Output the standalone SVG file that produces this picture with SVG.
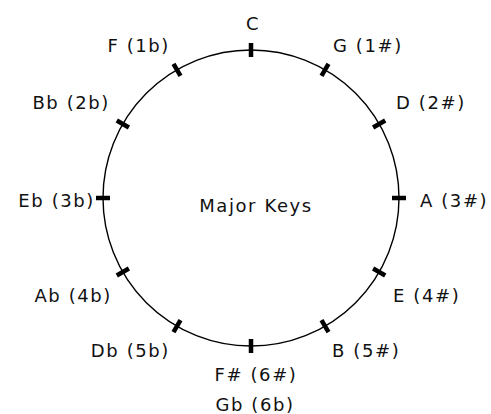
<svg xmlns="http://www.w3.org/2000/svg" width="491" height="414" viewBox="0 0 491 414">
<style>
.lbl{font-family:"DejaVu Sans","Verdana",sans-serif;font-size:18px;fill:#111;letter-spacing:1.6px}
.s{text-anchor:start}.e{text-anchor:end}.m{text-anchor:middle}
.tick{stroke:#000;stroke-width:4.5}
</style>
<rect width="491" height="414" fill="#fff"/>
<g id="connectors">
<circle cx="251" cy="198" r="148" fill="none" stroke="#000" stroke-width="1.4"/>
<g class="tick">
<line x1="251" y1="43" x2="251" y2="57"/>
<line x1="251" y1="43" x2="251" y2="57" transform="rotate(30 251 198)"/>
<line x1="251" y1="43" x2="251" y2="57" transform="rotate(60 251 198)"/>
<line x1="251" y1="43" x2="251" y2="57" transform="rotate(90 251 198)"/>
<line x1="251" y1="43" x2="251" y2="57" transform="rotate(120 251 198)"/>
<line x1="251" y1="43" x2="251" y2="57" transform="rotate(150 251 198)"/>
<line x1="251" y1="43" x2="251" y2="57" transform="rotate(180 251 198)"/>
<line x1="251" y1="43" x2="251" y2="57" transform="rotate(210 251 198)"/>
<line x1="251" y1="43" x2="251" y2="57" transform="rotate(240 251 198)"/>
<line x1="251" y1="43" x2="251" y2="57" transform="rotate(270 251 198)"/>
<line x1="251" y1="43" x2="251" y2="57" transform="rotate(300 251 198)"/>
<line x1="251" y1="43" x2="251" y2="57" transform="rotate(330 251 198)"/>
</g>
</g>
<g id="center"><text class="lbl m" x="256" y="212">Major Keys</text></g>
<g id="key-C"><text class="lbl m" x="253" y="30">C</text></g>
<g id="key-G"><text class="lbl s" x="333" y="52">G (1#)</text></g>
<g id="key-D"><text class="lbl s" x="396" y="109">D (2#)</text></g>
<g id="key-A"><text class="lbl s" x="420" y="207">A (3#)</text></g>
<g id="key-E"><text class="lbl s" x="393" y="302">E (4#)</text></g>
<g id="key-B"><text class="lbl s" x="332" y="357">B (5#)</text></g>
<g id="key-Fs"><text class="lbl m" x="256" y="381">F# (6#)</text><text class="lbl m" x="255" y="411">Gb (6b)</text></g>
<g id="key-Db"><text class="lbl e" x="170" y="357">Db (5b)</text></g>
<g id="key-Ab"><text class="lbl e" x="112" y="302">Ab (4b)</text></g>
<g id="key-Eb"><text class="lbl e" x="95" y="207">Eb (3b)</text></g>
<g id="key-Bb"><text class="lbl e" x="110" y="109">Bb (2b)</text></g>
<g id="key-F"><text class="lbl e" x="170" y="52">F (1b)</text></g>
</svg>
